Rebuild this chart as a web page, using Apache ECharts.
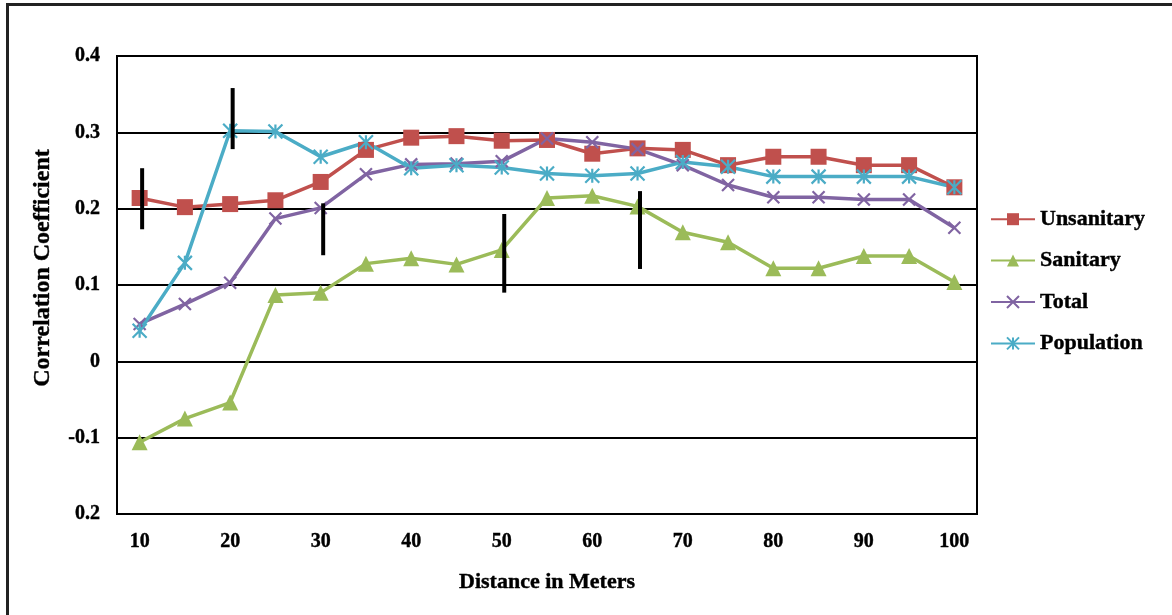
<!DOCTYPE html>
<html>
<head>
<meta charset="utf-8">
<script src="https://cdn.jsdelivr.net/npm/echarts@6/dist/echarts.min.js"></script>
<style>
html,body{margin:0;padding:0;background:#fff;}
#chart{width:1172px;height:615px;}
</style>
</head>
<body>
<div id="chart"></div>
<script>
// ---- data ----
const distances = ['10','15','20','25','30','35','40','45','50','55','60','65','70','75','80','85','90','95','100'];
const unsanitary = [0.214,0.202,0.206,0.211,0.235,0.277,0.293,0.295,0.289,0.290,0.272,0.279,0.277,0.257,0.268,0.268,0.257,0.257,0.228];
const sanitary   = [-0.106,-0.075,-0.054,0.087,0.090,0.128,0.135,0.127,0.146,0.214,0.217,0.203,0.169,0.156,0.122,0.122,0.138,0.138,0.104];
const total      = [0.049,0.075,0.103,0.187,0.201,0.245,0.258,0.259,0.262,0.292,0.287,0.278,0.257,0.231,0.215,0.215,0.212,0.212,0.175];
const population = [0.040,0.129,0.302,0.301,0.268,0.287,0.253,0.257,0.254,0.246,0.243,0.246,0.261,0.255,0.242,0.242,0.242,0.242,0.228];
const seriesNames = ['Unsanitary','Sanitary','Total','Population'];
// vertical black range bars
const rangeCats = ['10','20','30','50','65'];
const rangeLow  = [0.173,0.278,0.139,0.090,0.121];
const rangeHigh = [0.253,0.358,0.207,0.193,0.223];
// y tick labels as printed in the picture
const yTickValues = [-0.2,-0.1,0,0.1,0.2,0.3,0.4];
const yTickLabels = ['0.2','-0.1','0','0.1','0.2','0.3','0.4'];

const FONT = '"Liberation Serif", "Times New Roman", serif';
const colors = ['#C0504D','#9BBB59','#8064A2','#4BACC6'];
const xSym = 'path://M0,0L10,10M10,0L0,10';
const starSym = 'path://M5,0L5,10M0,0L10,10M10,0L0,10';

const chart = echarts.init(document.getElementById('chart'), null, {renderer:'canvas'});

function lineSeries(name, data, color, symbol, size, border) {
  return {
    name: name, type: 'line', data: data,
    symbol: symbol, symbolSize: size,
    lineStyle: {color: color, width: 3.5},
    itemStyle: border ? {color: 'rgba(0,0,0,0)', borderColor: color, borderWidth: 2.2} : {color: color, borderWidth: 0},
    color: color,
    emphasis: {disabled: true},
    z: 3
  };
}

const option = {
  animation: false,
  backgroundColor: '#fff',
  grid: {left: 117, right: 195, top: 56, bottom: 101, show: true, borderColor: '#000', borderWidth: 2, containLabel: false},
  legend: {
    orient: 'vertical', left: 985, top: 203,
    itemWidth: 44, itemHeight: 15, itemGap: 19,
    textStyle: {fontFamily: FONT, fontWeight: 'bold', fontSize: 22, color: '#000', lineHeight: 22, textBorderColor: '#000', textBorderWidth: 0.4},
    data: seriesNames
  },
  xAxis: {
    type: 'category', data: distances, boundaryGap: true,
    axisLine: {show: true, lineStyle: {color: '#000', width: 2}},
    axisTick: {show: false},
    axisLabel: {interval: 1, fontFamily: FONT, fontWeight: 'bold', fontSize: 20, color: '#000', margin: 18, textBorderColor: '#000', textBorderWidth: 0.4},
    splitLine: {show: false},
    name: 'Distance in Meters', nameLocation: 'middle', nameGap: 57,
    nameTextStyle: {fontFamily: FONT, fontWeight: 'bold', fontSize: 22, color: '#000', textBorderColor: '#000', textBorderWidth: 0.4}
  },
  yAxis: {
    type: 'value', min: -0.2, max: 0.4, interval: 0.1,
    axisLine: {show: true, lineStyle: {color: '#000', width: 2}},
    axisTick: {show: false},
    axisLabel: {
      fontFamily: FONT, fontWeight: 'bold', fontSize: 20, color: '#000', margin: 17, textBorderColor: '#000', textBorderWidth: 0.4,
      formatter: function (v) {
        for (let i = 0; i < yTickValues.length; i++) {
          if (Math.abs(yTickValues[i] - v) < 1e-9) return yTickLabels[i];
        }
        return '';
      }
    },
    splitLine: {show: true, lineStyle: {color: '#000', width: 2}}
  },
  series: [
    lineSeries(seriesNames[0], unsanitary, colors[0], 'rect', 16, false),
    lineSeries(seriesNames[1], sanitary, colors[1], 'triangle', 16, false),
    lineSeries(seriesNames[2], total, colors[2], xSym, 12, true),
    lineSeries(seriesNames[3], population, colors[3], starSym, 14, true),
    {
      type: 'custom', name: 'range',
      data: rangeCats.map((c, i) => [distances.indexOf(c), rangeLow[i], rangeHigh[i]]),
      renderItem: function (params, api) {
        const p1 = api.coord([api.value(0), api.value(1)]);
        const p2 = api.coord([api.value(0), api.value(2)]);
        return {type: 'line', shape: {x1: p1[0] + 2.5, y1: p1[1], x2: p2[0] + 2.5, y2: p2[1]},
                style: {stroke: '#000', lineWidth: 4}};
      },
      z: 5, silent: true
    }
  ],
  graphic: [
    {type: 'line', shape: {x1: 6, y1: 4.5, x2: 1172, y2: 4.5}, style: {stroke: '#222', lineWidth: 3}, silent: true},
    {type: 'line', shape: {x1: 7.5, y1: 3, x2: 7.5, y2: 615}, style: {stroke: '#222', lineWidth: 3}, silent: true},
    {type: 'text', x: 43, y: 268, rotation: Math.PI / 2,
     style: {text: 'Correlation Coefficient', font: 'bold 24px ' + FONT, fill: '#000', stroke: '#000', lineWidth: 0.4, align: 'center', verticalAlign: 'middle'}}
  ]
};
chart.setOption(option);
</script>
</body>
</html>
